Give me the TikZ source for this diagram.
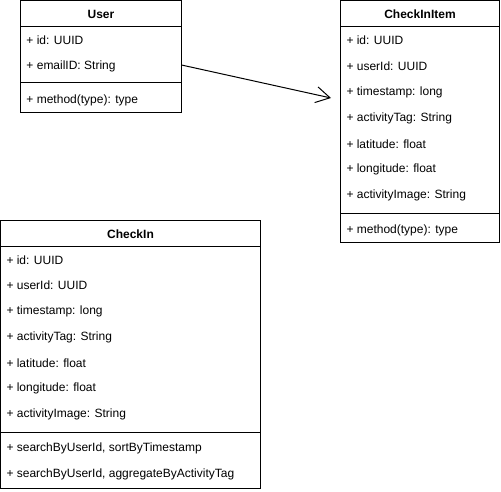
\documentclass[tikz,border=0pt]{standalone}
\usepackage{fontspec}
\setmainfont{Liberation Sans}
\usetikzlibrary{arrows.meta}
\begin{document}
\begin{tikzpicture}[x=1pt,y=-1pt,line width=1pt,
  classbox/.style={draw=black,fill=white,rectangle,anchor=north west,inner sep=0pt,outer sep=0pt},
  field/.style={anchor=west,inner sep=0pt,font=\fontsize{12}{14}\selectfont},
  ctitle/.style={anchor=center,inner sep=0pt,font=\fontsize{12}{14}\selectfont\bfseries},
  assoc/.style={draw=black,line width=1pt,-{Straight Barb[length=14pt,width=16pt,line width=1pt]}}]
\useasboundingbox (0,0) rectangle (501,492);

% ---------- User ----------
\node[classbox,minimum width=161pt,minimum height=112pt] (user) at (20.5,0.5) {};
\draw ([yshift=-26pt]user.north west) -- ([yshift=-26pt]user.north east);
\draw ([yshift=-82pt]user.north west) -- ([yshift=-82pt]user.north east);
\node[ctitle] (userT) at (101,14) {User};
\node[field] (userF1) at (26,40) {+ id: UUID};
\node[field] (userF2) at (26,66) {+ emailID: String};
\node[field] (userM1) at (26,100) {+ method(type): type};

% ---------- CheckInItem ----------
\node[classbox,minimum width=159pt,minimum height=242pt] (item) at (340.5,0.5) {};
\draw ([yshift=-26pt]item.north west) -- ([yshift=-26pt]item.north east);
\draw ([yshift=-213pt]item.north west) -- ([yshift=-213pt]item.north east);
\node[ctitle] (itemT) at (420,14) {CheckInItem};
\node[field] (itemF1) at (346,40) {+ id: UUID};
\node[field] (itemF2) at (346,66) {+ userId: UUID};
\node[field] (itemF3) at (346,92) {+ timestamp: long};
\node[field] (itemF4) at (346,118) {+ activityTag: String};
\node[field] (itemF5) at (346,144) {+ latitude: float};
\node[field] (itemF6) at (346,169) {+ longitude: float};
\node[field] (itemF7) at (346,195) {+ activityImage: String};
\node[field] (itemM1) at (346,230) {+ method(type): type};

% ---------- CheckIn ----------
\node[classbox,minimum width=260pt,minimum height=268pt] (checkin) at (0.5,220.5) {};
\draw ([yshift=-26pt]checkin.north west) -- ([yshift=-26pt]checkin.north east);
\draw ([yshift=-212pt]checkin.north west) -- ([yshift=-212pt]checkin.north east);
\node[ctitle] (checkinT) at (130.5,234) {CheckIn};
\node[field] (ciF1) at (6,260) {+ id: UUID};
\node[field] (ciF2) at (6,285) {+ userId: UUID};
\node[field] (ciF3) at (6,311) {+ timestamp: long};
\node[field] (ciF4) at (6,337) {+ activityTag: String};
\node[field] (ciF5) at (6,363) {+ latitude: float};
\node[field] (ciF6) at (6,388) {+ longitude: float};
\node[field] (ciF7) at (6,414) {+ activityImage: String};
\node[field] (ciM1) at (6,448) {+ searchByUserId, sortByTimestamp};
\node[field] (ciM2) at (6,474) {+ searchByUserId, aggregateByActivityTag};

% ---------- association ----------
\coordinate (assocStart) at (user.east |- 0,65);
\coordinate (assocEnd) at (331,98);
\draw[assoc] (assocStart) -- (assocEnd);
\end{tikzpicture}
\end{document}
